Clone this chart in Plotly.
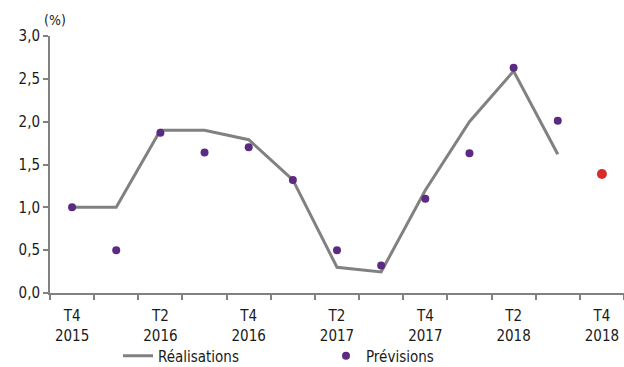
import plotly.graph_objects as go

# ── Data ────────────────────────────────────────────────────────────────
quarters = ["T4 2015", "T1 2016", "T2 2016", "T3 2016", "T4 2016", "T1 2017",
            "T2 2017", "T3 2017", "T4 2017", "T1 2018", "T2 2018", "T3 2018",
            "T4 2018"]
realisations = [1.0, 1.0, 1.9, 1.9, 1.79, 1.32, 0.30, 0.245, 1.2, 2.0, 2.59, 1.62]
previsions = [1.0, 0.5, 1.87, 1.64, 1.70, 1.32, 0.50, 0.32, 1.10, 1.63, 2.63, 2.01]
prevision_last = 1.39

tick_idx = [0, 2, 4, 6, 8, 10, 12]
tick_text = ["T4<br>2015", "T2<br>2016", "T4<br>2016", "T2<br>2017",
             "T4<br>2017", "T2<br>2018", "T4<br>2018"]

# ── Colours ─────────────────────────────────────────────────────────────
GREY = "#818181"
PURPLE = "#5B2A82"
RED = "#D92B2B"
TEXT = "#1A1A1A"
FONT = "Liberation Sans Narrow, DejaVu Sans Condensed, sans-serif"

x_idx = list(range(len(quarters)))

fig = go.Figure()
fig.add_trace(go.Scatter(
    x=x_idx[:len(realisations)], y=realisations, mode="lines",
    name="Réalisations", line=dict(color=GREY, width=3),
))
fig.add_trace(go.Scatter(
    x=x_idx[:len(previsions)], y=previsions, mode="markers",
    name="Prévisions", marker=dict(color=PURPLE, size=8),
))
fig.add_trace(go.Scatter(
    x=[x_idx[-1]], y=[prevision_last], mode="markers",
    showlegend=False, marker=dict(color=RED, size=10),
))

fig.update_layout(
    width=624, height=367,
    paper_bgcolor="white", plot_bgcolor="white",
    margin=dict(l=50, r=0, t=36, b=74),
    font=dict(family=FONT, color=TEXT, size=15),
    separators=", ",
    showlegend=True,
    legend=dict(
        orientation="h", x=118 / 624, xanchor="left",
        xref="container", yref="container", y=1 - 356 / 367, yanchor="middle",
        entrywidth=163, font=dict(size=15), bgcolor="rgba(0,0,0,0)",
    ),
    annotations=[dict(
        text="(%)", xref="paper", yref="paper", x=0, y=(293 - 20) / 257,
        xanchor="left", yanchor="middle", showarrow=False,
        font=dict(size=14, color=TEXT), xshift=-8,
    )],
)
fig.update_xaxes(
    range=[-0.5, 12.5], tickvals=tick_idx, ticktext=tick_text,
    showgrid=False, zeroline=False, showline=True, linecolor=GREY, linewidth=2,
    ticks="", tickfont=dict(size=15), ticklabelstandoff=8, automargin=False,
    minor=dict(tick0=-0.5, dtick=1, ticks="outside", ticklen=5,
               tickcolor=GREY, tickwidth=2, showgrid=False),
)
fig.update_yaxes(
    range=[0, 3.0], dtick=0.5, tickformat=".1f", automargin=False,
    showgrid=False, zeroline=False, showline=True, linecolor=GREY, linewidth=2,
    ticks="outside", ticklen=5, tickcolor=GREY, tickwidth=2,
    tickfont=dict(size=15),
)

# page body has an 8px default margin; drop it so the figure sits at 0,0
fig.write_html("out.html", config={"displayModeBar": False},
               post_script="document.body.style.margin='0';")
